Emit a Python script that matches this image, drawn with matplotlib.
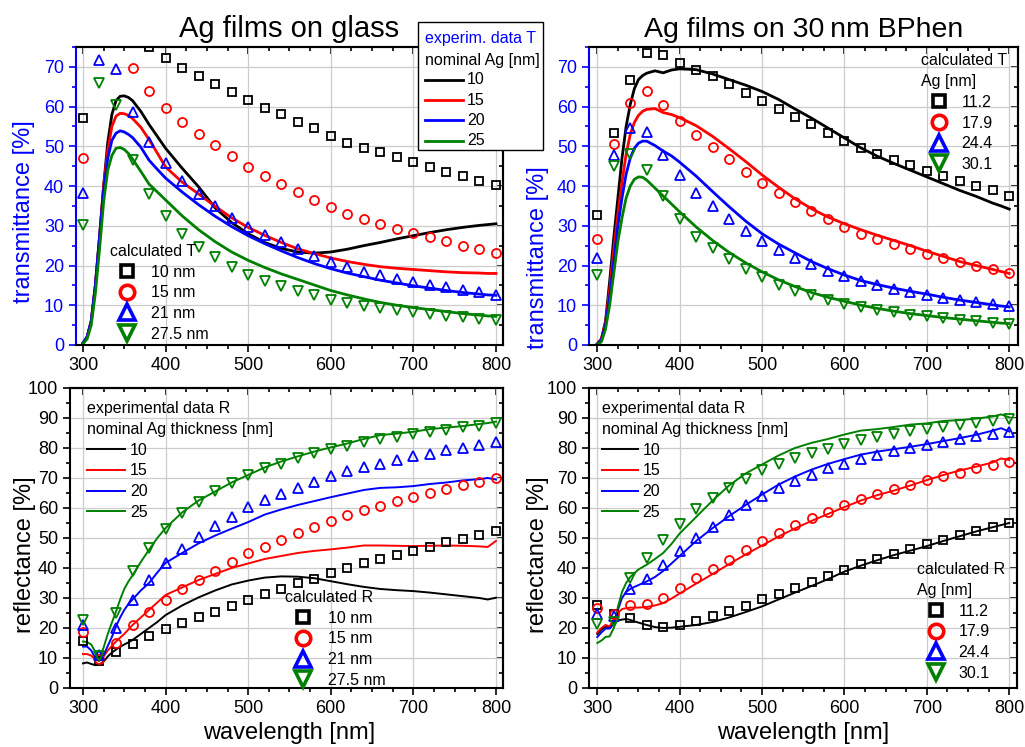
import numpy as np
import matplotlib
matplotlib.use("Agg")
import matplotlib.pyplot as plt
from matplotlib.ticker import MultipleLocator
from matplotlib.lines import Line2D
from matplotlib.patches import Rectangle

plt.rcParams['font.family'] = ['Liberation Sans', 'DejaVu Sans']

# wavelength grids [nm]
wl_exp = [300, 305, 310, 315, 320, 325, 330, 335, 340, 345, 350, 355,
          360, 370, 380, 390, 400,
          420, 440, 460, 480, 500, 520, 540, 560, 580, 600, 620, 640, 660, 680, 700, 720, 740, 760, 780,
          790, 800]
wl_calc = np.arange(300, 801, 20)

# ---- experimental transmittance, Ag on glass (nominal 10/15/20/25 nm)
glass_T_10 = [0.5, 2, 6, 15, 27, 40, 51, 58, 61.5, 62.6, 62.7, 62.3,
              61.5, 58.8, 55.5, 52.5, 49.5,
              44.5, 39.8, 34.5, 30.8, 28.0, 25.8, 24.3, 23.4, 23.1, 23.4, 24.1, 25.0, 25.8, 26.7, 27.5, 28.3, 29.0, 29.6, 30.1,
              30.3, 30.5]
glass_T_15 = [0.5, 2, 6, 15, 27, 40, 49, 55, 57.6, 58.3, 58.2, 57.8,
              57.0, 54.8, 51.7, 48.3, 44.8,
              41.0, 38.0, 34.9, 32.0, 29.6, 27.6, 25.8, 24.2, 23.0, 21.9, 21.0, 20.3, 19.7, 19.3, 19.0, 18.7, 18.4, 18.2, 18.1,
              18.0, 18.0]
glass_T_20 = [0.5, 2, 6, 15, 27, 39, 47, 51.5, 53.3, 53.9, 53.6, 53.0,
              52.2, 49.8, 46.5, 44.2, 42.0,
              38.5, 35.3, 32.4, 29.8, 27.5, 25.5, 23.7, 22.0, 20.5, 19.2, 18.1, 17.2, 16.3, 15.6, 14.9, 14.3, 13.7, 13.2, 12.8,
              12.6, 12.5]
glass_T_25 = [0.3, 1.5, 5, 13, 24, 36, 44, 47.7, 49.5, 49.7, 49.2, 48.2,
              46.8, 43.7, 40.5, 38.5, 36.5,
              32.5, 29.0, 26.0, 23.4, 21.3, 19.5, 17.9, 16.5, 15.1, 13.7, 12.6, 11.6, 10.7, 10.0, 9.4, 8.9, 8.4, 7.9, 7.5,
              7.3, 7.2]

# ---- experimental transmittance, Ag on 30 nm BPhen
bphen_T_10 = [0.3, 1.5, 6, 16, 27, 37, 47, 55, 60.5, 64.5, 66.8, 67.8,
              68.4, 69.0, 68.5, 69.2, 69.5,
              69.3, 68.2, 66.8, 65.4, 63.8, 61.8, 59.4, 57.1, 54.6, 52.1, 49.6, 47.5, 45.7, 44.0, 42.3, 40.6, 38.9, 37.4, 35.7,
              35.0, 34.2]
bphen_T_15 = [0.3, 1.5, 5.5, 14, 24, 33, 41, 48, 53, 56, 57.8, 58.8,
              59.3, 59.5, 58.5, 58.0, 57.2,
              55.2, 52.5, 49.4, 46.2, 42.8, 39.7, 36.8, 34.3, 32.2, 30.5, 29.0, 27.6, 26.3, 25.0, 23.6, 22.3, 21.0, 20.0, 19.0,
              18.5, 18.0]
bphen_T_20 = [0.2, 1.2, 5, 12, 21, 30, 37, 43, 47, 49.5, 50.8, 51.3,
              51.3, 50.2, 48.8, 47.6, 46.0,
              42.5, 38.6, 34.8, 31.2, 28.0, 25.4, 23.2, 21.0, 19.2, 17.6, 16.2, 15.2, 14.3, 13.5, 12.8, 12.0, 11.3, 10.7, 10.1,
              9.8, 9.6]
bphen_T_25 = [0.1, 0.8, 4, 10, 18, 26, 32, 37, 40, 41.7, 42.3, 42.2,
              41.5, 39.5, 37.5, 35.5, 33.5,
              29.7, 26.3, 23.3, 20.7, 18.4, 16.4, 14.7, 13.2, 12.0, 11.0, 10.0, 9.2, 8.5, 7.9, 7.4, 6.9, 6.5, 6.1, 5.7,
              5.5, 5.4]

# ---- experimental reflectance, Ag on glass
glass_R_10 = [8.2, 8.5, 8.0, 7.6, 7.8, 8.8, 10.5, 11.8, 12.8, 13.7, 14.5, 15.2,
              16.0, 18.0, 20.0, 22.0, 24.3,
              27.5, 30.2, 32.5, 34.5, 35.8, 36.8, 37.2, 37.1, 36.6, 35.6, 34.6, 33.7, 33.0, 32.6, 32.3, 31.8, 31.2, 30.6, 30.0,
              29.5, 30.1]
glass_R_15 = [11.3, 11.3, 10.8, 9.5, 9.0, 10.5, 12.5, 14.0, 15.5, 16.8, 18.0, 19.5,
              21.0, 23.5, 26.0, 28.5, 31.0,
              33.5, 36.0, 38.0, 40.0, 41.5, 43.0, 44.0, 45.0, 45.7, 46.2, 46.8, 47.5, 47.5, 47.4, 47.3, 47.4, 47.5, 47.4, 47.2,
              47.0, 49.0]
glass_R_20 = [13.8, 13.8, 12.5, 10.0, 9.2, 11.0, 14.0, 17.0, 20.5, 23.5, 26.0, 28.0,
              29.5, 32.5, 35.0, 38.5, 41.7,
              45.0, 48.2, 50.8, 53.1, 55.3, 57.8, 59.5, 61.0, 62.3, 63.6, 64.8, 66.0, 66.7, 66.9, 67.3, 68.0, 68.5, 69.2, 69.6,
              70.0, 69.5]
glass_R_25 = [15.5, 15.3, 14.5, 12.0, 10.0, 13.5, 18.0, 21.8, 25.5, 29.5, 33.0, 35.5,
              37.5, 42.0, 46.1, 50.0, 53.3,
              58.5, 62.5, 65.5, 68.5, 71.0, 73.5, 75.5, 77.2, 78.8, 80.2, 81.5, 83.0, 84.3, 84.8, 85.4, 86.3, 86.8, 87.3, 88.0,
              88.3, 88.8]

# ---- experimental reflectance, Ag on 30 nm BPhen
bphen_R_10 = [18.0, 19.5, 20.5, 20.0, 21.5, 22.5, 22.8, 23.0, 22.7, 22.2, 21.8, 21.4,
              21.0, 20.3, 20.0, 20.1, 20.4,
              21.0, 22.0, 23.5, 25.3, 27.2, 29.5, 31.8, 34.0, 36.3, 38.8, 40.8, 42.6, 44.3, 45.8, 47.3, 49.0, 50.6, 52.2, 53.6,
              54.3, 55.0]
bphen_R_15 = [18.5, 20.0, 21.0, 20.5, 23.0, 25.0, 26.3, 26.6, 26.8, 26.8, 26.8, 26.9,
              27.0, 27.5, 28.3, 29.8, 31.5,
              34.8, 38.0, 41.3, 44.5, 47.5, 50.5, 53.2, 55.7, 58.0, 60.3, 62.5, 64.3, 65.8, 67.5, 69.3, 71.0, 72.5, 73.8, 75.2,
              76.5, 76.0]
bphen_R_20 = [17.0, 18.5, 19.8, 19.8, 21.5, 26.0, 30.0, 32.0, 33.0, 33.7, 34.3, 34.9,
              35.5, 37.0, 39.0, 41.5, 44.0,
              49.0, 53.3, 57.3, 61.0, 64.5, 67.8, 70.5, 72.8, 74.7, 76.3, 77.8, 78.8, 79.6, 80.4, 81.3, 82.3, 83.3, 84.4, 85.8,
              86.6, 85.5]
bphen_R_25 = [15.0, 15.8, 17.0, 17.2, 20.0, 27.0, 32.0, 35.0, 37.0, 38.3, 39.5, 40.3,
              41.1, 43.0, 45.0, 48.0, 51.5,
              57.0, 62.5, 67.5, 71.5, 74.5, 77.5, 80.0, 81.7, 83.0, 84.5, 85.8, 86.3, 87.0, 87.8, 88.2, 89.0, 89.3, 89.8, 90.5,
              91.2, 90.2]

# ---- calculated T / R (symbols, every 20 nm)
glass_calc_T_10 = [57.2, 76.5, 79.0, 77.5, 75.0, 72.3, 69.8, 67.8, 65.8, 63.7, 61.7, 59.7, 58.1, 56.2, 54.5, 52.7,
                   50.9, 49.7, 48.5, 47.3, 46.1, 44.9, 43.6, 42.5, 41.3, 40.2]
glass_calc_T_15 = [47.1, 78.0, 77.0, 69.7, 64.0, 59.7, 56.0, 53.1, 50.3, 47.6, 44.8, 42.6, 40.5, 38.5, 36.6, 34.7,
                   32.9, 31.7, 30.5, 29.3, 28.2, 27.1, 26.1, 25.0, 24.1, 23.2]
glass_calc_T_21 = [38.2, 71.6, 69.5, 58.7, 51.1, 45.8, 41.3, 38.0, 34.9, 32.0, 29.6, 27.6, 25.8, 24.1, 22.4, 20.9,
                   19.6, 18.4, 17.6, 16.6, 15.9, 15.1, 14.5, 13.9, 13.3, 12.7]
glass_calc_T_27 = [30.3, 66.0, 60.3, 46.5, 38.0, 32.4, 27.9, 24.6, 22.1, 19.7, 17.7, 16.1, 14.9, 13.6, 12.5, 11.3,
                   10.5, 9.8, 9.2, 8.7, 8.2, 7.7, 7.4, 7.0, 6.6, 6.2]

bphen_calc_T_11 = [32.8, 53.4, 66.7, 73.5, 72.9, 71.0, 69.2, 67.6, 65.6, 63.4, 61.3, 59.4, 57.4, 55.5, 53.4, 51.4,
                   49.5, 48.1, 46.6, 45.3, 43.9, 42.6, 41.3, 40.1, 38.9, 37.6]
bphen_calc_T_18 = [26.7, 50.6, 60.8, 64.0, 60.4, 56.4, 52.9, 49.8, 46.7, 43.6, 40.7, 38.2, 36.0, 33.7, 31.7, 29.7,
                   27.9, 26.6, 25.3, 24.1, 23.0, 22.0, 20.9, 20.0, 19.2, 18.2]
bphen_calc_T_24 = [21.8, 47.9, 54.5, 53.7, 47.9, 42.7, 38.2, 34.9, 31.8, 28.7, 26.1, 24.0, 22.0, 20.3, 18.7, 17.3,
                   16.0, 15.0, 14.1, 13.3, 12.6, 11.9, 11.3, 10.8, 10.3, 9.8]
bphen_calc_T_30 = [17.6, 45.0, 48.1, 44.1, 37.4, 31.8, 27.3, 24.4, 21.7, 19.1, 17.1, 15.1, 13.7, 12.5, 11.3, 10.3,
                   9.5, 8.7, 8.2, 7.6, 7.2, 6.7, 6.3, 6.1, 5.6, 5.4]

glass_calc_R_10 = [15.6, 9.0, 11.9, 14.8, 17.2, 19.8, 21.8, 23.5, 25.4, 27.4, 29.4, 31.2, 33.1, 35.0, 36.4, 38.3,
                   40.1, 41.6, 43.0, 44.4, 45.8, 47.1, 48.6, 49.8, 51.1, 52.3]
glass_calc_R_15 = [18.7, 9.5, 15.0, 21.0, 25.3, 29.3, 33.1, 35.9, 39.0, 41.9, 44.9, 47.1, 49.4, 51.7, 53.7, 55.8,
                   57.8, 59.3, 60.8, 62.2, 63.7, 65.0, 66.3, 67.6, 68.7, 69.9]
glass_calc_R_21 = [21.1, 11.1, 20.0, 29.4, 36.1, 41.7, 46.4, 50.2, 53.9, 57.0, 60.2, 62.6, 64.7, 66.8, 68.8, 70.6,
                   72.2, 73.6, 74.8, 76.1, 77.2, 78.1, 79.2, 80.1, 81.0, 81.9]
glass_calc_R_27 = [22.8, 10.8, 25.0, 38.9, 46.7, 53.0, 58.3, 62.0, 65.6, 68.3, 71.1, 73.2, 74.8, 76.7, 78.3, 79.7,
                   80.8, 81.9, 82.9, 83.7, 84.6, 85.4, 86.1, 86.9, 87.4, 88.3]

bphen_calc_R_11 = [27.5, 24.5, 23.4, 20.9, 20.3, 21.1, 22.4, 23.9, 25.6, 27.4, 29.6, 31.4, 33.4, 35.4, 37.3, 39.4,
                   41.4, 43.1, 44.8, 46.2, 47.9, 49.4, 50.9, 52.3, 53.7, 55.1]
bphen_calc_R_18 = [26.7, 24.7, 27.7, 28.1, 30.0, 33.2, 36.6, 39.5, 42.6, 45.9, 49.0, 51.6, 54.2, 56.5, 58.8, 61.0,
                   63.1, 64.8, 66.4, 67.8, 69.3, 70.6, 71.8, 73.2, 74.3, 75.4]
bphen_calc_R_24 = [24.7, 23.9, 32.9, 36.4, 40.9, 45.7, 50.1, 53.8, 57.6, 60.9, 64.0, 66.8, 69.0, 71.0, 73.2, 74.8,
                   76.3, 77.7, 79.0, 80.1, 81.1, 82.1, 83.1, 83.9, 84.7, 85.4]
bphen_calc_R_30 = [21.2, 22.0, 36.7, 43.4, 49.3, 54.8, 59.6, 63.4, 66.8, 69.8, 72.6, 74.6, 76.6, 78.2, 79.6, 81.2,
                   82.6, 83.6, 84.5, 85.6, 86.3, 87.0, 87.5, 88.3, 89.1, 89.6]

nominal_labels = ['10', '15', '20', '25']
glass_calc_labels = ['10 nm', '15 nm', '21 nm', '27.5 nm']
bphen_calc_labels = ['11.2', '17.9', '24.4', '30.1']

colors = ['black', '#ff0000', '#0000ff', '#008000']
markers = ['s', 'o', '^', 'v']
msizes = {'s': 5.5, 'o': 6.5, '^': 7, 'v': 7}

LEG_FS = 11.5


def style_axes(ax, xlim, ylim, blue_left=False):
    ax.set_xlim(*xlim)
    ax.set_ylim(*ylim)
    ax.xaxis.set_major_locator(MultipleLocator(100))
    ax.xaxis.set_minor_locator(MultipleLocator(25))
    ax.yaxis.set_major_locator(MultipleLocator(10))
    ax.yaxis.set_minor_locator(MultipleLocator(5))
    ax.grid(True, which='major', color='#cccccc', lw=0.9)
    ax.set_axisbelow(True)
    ax.tick_params(which='both', direction='out', labelsize=13, width=1.2)
    ax.tick_params(which='major', length=5)
    ax.tick_params(which='minor', length=3)
    for s in ax.spines.values():
        s.set_linewidth(1.5)
    if blue_left:
        ax.spines['left'].set_color('#0000ff')
        ax.tick_params(axis='y', which='both', colors='#0000ff')
    # inward ticks on top and right
    top = ax.secondary_xaxis('top')
    top.xaxis.set_major_locator(MultipleLocator(100))
    top.xaxis.set_minor_locator(MultipleLocator(25))
    top.tick_params(axis='x', which='both', direction='in', labeltop=False, width=1.2)
    top.tick_params(which='major', length=5)
    top.tick_params(which='minor', length=3)
    top.spines['top'].set_linewidth(1.5)
    right = ax.secondary_yaxis('right')
    right.yaxis.set_major_locator(MultipleLocator(10))
    right.yaxis.set_minor_locator(MultipleLocator(5))
    right.tick_params(axis='y', which='both', direction='in', labelright=False, width=1.2)
    right.tick_params(which='major', length=5)
    right.tick_params(which='minor', length=3)
    right.spines['right'].set_linewidth(1.5)


def draw_panel(ax, exp_list, calc_list, lw):
    lines = []
    for y, c in zip(exp_list, colors):
        ln, = ax.plot(wl_exp, y, color=c, lw=lw)
        lines.append(ln)
    syms = []
    for y, c, m in zip(calc_list, colors, markers):
        p, = ax.plot(wl_calc, y, ls='none', marker=m, ms=msizes[m], mfc='none', mec=c, mew=1.3)
        syms.append(p)
    return lines, syms


def add_legend(ax, handles, labels, title, anchor, hl, pad, symbols=True):
    leg = ax.legend(handles, labels, title=title, loc='upper left', bbox_to_anchor=anchor,
                    frameon=False, fontsize=LEG_FS, title_fontsize=LEG_FS, alignment='left',
                    handlelength=hl, handletextpad=pad, labelspacing=0.36, borderpad=0.1,
                    borderaxespad=0, markerscale=1.6 if symbols else 1.0)
    leg.get_title().set_linespacing(1.5)
    if symbols:
        for h in leg.legend_handles:
            h.set_markeredgewidth(2.6)
    return leg


fig = plt.figure(figsize=(10.25, 7.47), dpi=100)

ax_tl = fig.add_axes([0.0741, 0.5382, 0.4166, 0.3989])
ax_tr = fig.add_axes([0.5746, 0.5382, 0.4185, 0.3989])
ax_bl = fig.add_axes([0.0683, 0.0790, 0.4224, 0.4016])
ax_br = fig.add_axes([0.5746, 0.0790, 0.4176, 0.4016])

# top left: transmittance on glass
l, s = draw_panel(ax_tl, [glass_T_10, glass_T_15, glass_T_20, glass_T_25],
                  [glass_calc_T_10, glass_calc_T_15, glass_calc_T_21, glass_calc_T_27], 2.0)
style_axes(ax_tl, (291.5, 808.5), (0, 75), blue_left=True)
ax_tl.set_title('Ag films on glass', fontsize=21, pad=7)
ax_tl.set_ylabel('transmittance [%]', fontsize=17, color='#0000ff')
ax_tl.yaxis.set_label_coords(-0.096, 0.446)
add_legend(ax_tl, s, glass_calc_labels, 'calculated T', (0.0759, 0.345), 2.1, 0.5)

# top right: transmittance on BPhen
l, s = draw_panel(ax_tr, [bphen_T_10, bphen_T_15, bphen_T_20, bphen_T_25],
                  [bphen_calc_T_11, bphen_calc_T_18, bphen_calc_T_24, bphen_calc_T_30], 2.0)
style_axes(ax_tr, (289.9, 810.6), (0, 75), blue_left=True)
ax_tr.set_title('Ag films on 30\u2009nm BPhen', fontsize=20.5, pad=7)
ax_tr.set_ylabel('transmittance [%]', fontsize=17, color='#0000ff')
ax_tr.yaxis.set_label_coords(-0.093, 0.292)
add_legend(ax_tr, s, bphen_calc_labels, 'calculated T\nAg [nm]', (0.770, 0.985), 2.25, 0.3)

# bottom left: reflectance on glass
l, s = draw_panel(ax_bl, [glass_R_10, glass_R_15, glass_R_20, glass_R_25],
                  [glass_calc_R_10, glass_calc_R_15, glass_calc_R_21, glass_calc_R_27], 1.4)
style_axes(ax_bl, (284.3, 808.5), (0, 100))
ax_bl.set_ylabel('reflectance [%]', fontsize=17)
ax_bl.yaxis.set_label_coords(-0.079, 0.443)
ax_bl.set_xlabel('wavelength [nm]', fontsize=17)
ax_bl.xaxis.set_label_coords(0.507, -0.113)
leg1 = add_legend(ax_bl, l, nominal_labels, 'experimental data R\nnominal Ag thickness [nm]',
                  (0.0356, 0.962), 2.4, 0.3, symbols=False)
ax_bl.add_artist(leg1)
add_legend(ax_bl, s, glass_calc_labels, 'calculated R', (0.493, 0.332), 2.25, 0.44)

# bottom right: reflectance on BPhen
l, s = draw_panel(ax_br, [bphen_R_10, bphen_R_15, bphen_R_20, bphen_R_25],
                  [bphen_calc_R_11, bphen_calc_R_18, bphen_calc_R_24, bphen_calc_R_30], 1.4)
style_axes(ax_br, (289.9, 809.4), (0, 100))
ax_br.set_ylabel('reflectance [%]', fontsize=17)
ax_br.yaxis.set_label_coords(-0.093, 0.443)
ax_br.set_xlabel('wavelength [nm]', fontsize=17)
ax_br.xaxis.set_label_coords(0.5, -0.113)
leg2 = add_legend(ax_br, l, nominal_labels, 'experimental data R\nnominal Ag thickness [nm]',
                  (0.0266, 0.962), 2.25, 0.3, symbols=False)
ax_br.add_artist(leg2)
add_legend(ax_br, s, bphen_calc_labels, 'calculated R\nAg [nm]', (0.763, 0.426), 2.3, 0.3)

# boxed legend for the measured T curves (shared by both top panels)
W, H = 1025.0, 747.0
fig.add_artist(Rectangle((418 / W, 1 - 150 / H), 125 / W, 128 / H, transform=fig.transFigure,
                         facecolor='white', edgecolor='black', lw=1.0, zorder=5))
fig.text(425 / W, 1 - 39 / H, 'experim. data T', color='#0000ff', fontsize=LEG_FS, va='center', zorder=6)
fig.text(425 / W, 1 - 60 / H, 'nominal Ag [nm]', color='black', fontsize=LEG_FS, va='center', zorder=6)
for i, (lab, c) in enumerate(zip(nominal_labels, colors)):
    yy = 1 - (80 + 20.2 * i) / H
    fig.add_artist(Line2D([425 / W, 463 / W], [yy, yy], transform=fig.transFigure, color=c, lw=2.0, zorder=6))
    fig.text(467 / W, yy, lab, fontsize=LEG_FS, va='center', zorder=6)

fig.savefig('out.png', dpi=100)
